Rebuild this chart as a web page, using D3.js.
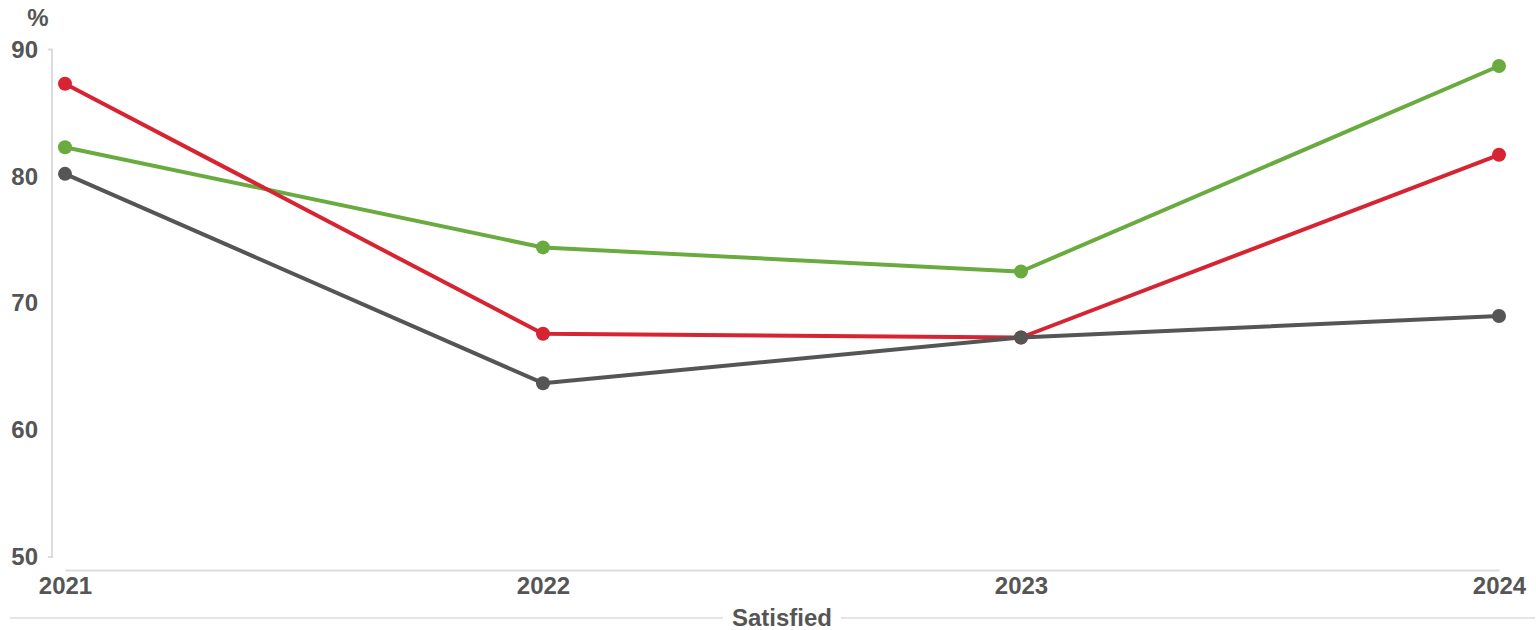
<!DOCTYPE html>
<html>
<head>
<meta charset="utf-8">
<script src="https://cdn.jsdelivr.net/npm/d3@7"></script>
<style>
  html, body { margin: 0; padding: 0; background: #fff; }
  svg { display: block; font-family: "Liberation Sans", Arial, sans-serif; }
</style>
</head>
<body>
<svg id="chart" width="1536" height="630"></svg>
<script>
// Survey years and share of respondents who were satisfied (%)
const years = ["2021", "2022", "2023", "2024"];
const redSeries = [87.3, 67.6, 67.3, 81.7];
const greenSeries = [82.3, 74.4, 72.5, 88.7];
const graySeries = [80.2, 63.7, 67.3, 69.0];
const yTicks = [50, 60, 70, 80, 90];
const axisTitle = "Satisfied";
const unitLabel = "%";

const series = [
  { name: "green", values: greenSeries, color: "#6aab3f" },
  { name: "red", values: redSeries, color: "#d62433" },
  { name: "gray", values: graySeries, color: "#555555" }
];

const svg = d3.select("#chart");
const textColor = "#555555";
const ruleColor = "#dcdcdc";
const labelSize = 24;

const x = d3.scalePoint().domain(years).range([65, 1499]);
const y = d3.scaleLinear().domain([50, 90]).range([557, 49.5]);

// Vertical value axis
const yAxis = svg.append("g").attr("transform", "translate(52,0)")
  .call(d3.axisLeft(y).tickValues(yTicks).tickSize(4).tickPadding(10).tickFormat(d3.format("d")));
yAxis.select(".domain").attr("stroke", ruleColor).attr("stroke-width", 2)
  .attr("d", `M-4,${y(90)}H0V${y(50)}H-4`);
yAxis.selectAll(".tick line").attr("stroke", "none");
yAxis.selectAll(".tick text")
  .attr("fill", textColor).attr("font-size", labelSize).attr("font-weight", "bold")
  .attr("font-family", "Liberation Sans, Arial, sans-serif");

svg.append("text").attr("x", 38).attr("y", 26).attr("text-anchor", "middle")
  .attr("fill", textColor).attr("font-size", labelSize).attr("font-weight", "bold").text(unitLabel);

// Horizontal category axis
const xAxis = svg.append("g").attr("transform", "translate(0,570)")
  .call(d3.axisBottom(x).tickSize(0).tickPadding(7));
xAxis.select(".domain").attr("stroke", ruleColor).attr("stroke-width", 2);
xAxis.selectAll(".tick text")
  .attr("fill", textColor).attr("font-size", labelSize).attr("font-weight", "bold")
  .attr("font-family", "Liberation Sans, Arial, sans-serif");

// Axis title set on a rule
svg.append("line").attr("x1", 10).attr("x2", 1535).attr("y1", 618).attr("y2", 618)
  .attr("stroke", ruleColor).attr("stroke-width", 1.5);
const titleBg = svg.append("rect").attr("fill", "#fff");
const title = svg.append("text").attr("x", 782).attr("y", 626).attr("text-anchor", "middle")
  .attr("fill", textColor).attr("font-size", labelSize).attr("font-weight", "bold").text(axisTitle);
const bb = title.node().getBBox();
titleBg.attr("x", bb.x - 9).attr("y", 610).attr("width", bb.width + 18).attr("height", 16);

// Lines and markers
const line = d3.line().x((d, i) => x(years[i])).y(d => y(d));
const g = svg.append("g");
series.forEach(s => {
  g.append("path").datum(s.values).attr("d", line)
    .attr("fill", "none").attr("stroke", s.color).attr("stroke-width", 4)
    .attr("stroke-linejoin", "round");
});
series.forEach(s => {
  g.selectAll(null).data(s.values).enter().append("circle")
    .attr("cx", (d, i) => x(years[i])).attr("cy", d => y(d)).attr("r", 7)
    .attr("fill", s.color);
});
</script>
</body>
</html>
